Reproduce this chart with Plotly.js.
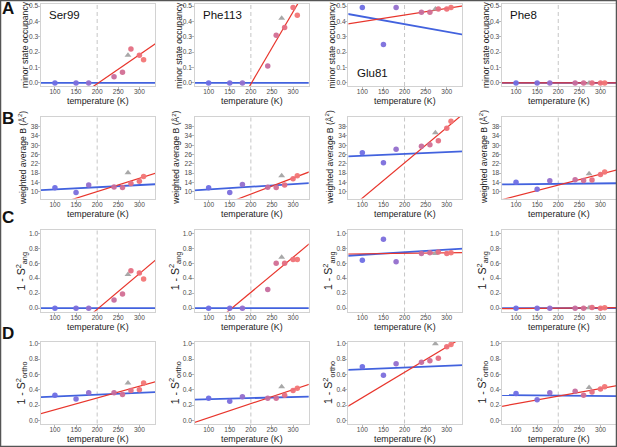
<!DOCTYPE html>
<html><head><meta charset="utf-8">
<script src="https://cdn.plot.ly/plotly-3.0.1.min.js"></script>
<style>html,body{margin:0;padding:0;background:#fff}#chart{width:617px;height:447px}</style>
</head><body><div id="chart"></div>
<script>
// ---------------- data ----------------
const residues = ["Ser99", "Phe113", "Glu81", "Phe8"];
const panelLetters = ["A", "B", "C", "D"];
const tempsCryo = [100, 150, 180];
const tempsWarm = [240, 260, 280, 300, 310];
const tempRT = 273;
const xTicks = [100, 150, 200, 250, 300];
const occTicks = [0, 0.1, 0.2, 0.3, 0.4, 0.5];
const bTicks = [10, 14, 18, 22, 26, 30, 34, 38];
const sTicks = [0, 0.2, 0.4, 0.6, 0.8, 1.0];

// A: minor state occupancy
const occCryo = [[0, 0, 0], [0, 0, 0], [0.49, 0.25, 0.49], [0, 0, 0]];
const occWarm = [[0.04, 0.07, 0.22, 0.18, 0.15], [0.11, 0.31, 0.36, 0.49, 0.44],
                 [0.46, 0.46, 0.48, 0.48, 0.49], [0, 0, 0, 0, 0]];
const occRT = [0.18, 0.42, 0.48, 0];

// B: weighted average B
const bCryo = [[11.6, 9.6, 12.8], [11.6, 9.6, 13.0], [26.8, 22.4, 28.3], [14.0, 11.0, 14.7]];
const bWarm = [[12.0, 11.7, 13.5, 14.5, 16.5], [11.9, 11.7, 12.8, 15.5, 16.8],
               [29.6, 30.2, 31.9, 37.3, 40.4], [15.1, 14.8, 15.0, 17.4, 18.4]];
const bRT = [18.1, 16.8, 35.4, 17.7];

// C: 1 - S2 ang
const angCryo = [[0, 0, 0], [0, 0, 0], [0.64, 0.92, 0.62], [0, 0, 0]];
const angWarm = [[0.11, 0.19, 0.50, 0.47, 0.39], [0.25, 0.60, 0.60, 0.65, 0.65],
                 [0.73, 0.74, 0.75, 0.73, 0.74], [0, 0, 0.01, 0, 0.005]];
const angRT = [0.45, 0.68, 0.73, 0.005];

// D: 1 - S2 ortho
const orthoCryo = [[0.33, 0.28, 0.36], [0.29, 0.25, 0.31], [0.70, 0.59, 0.74], [0.35, 0.27, 0.36]];
const orthoWarm = [[0.36, 0.34, 0.39, 0.40, 0.49], [0.29, 0.29, 0.33, 0.39, 0.42],
                   [0.76, 0.78, 0.81, 0.96, 0.99], [0.38, 0.33, 0.37, 0.41, 0.44]];
const orthoRT = [0.49, 0.44, 1.0, 0.43];

// ---------------- styling ----------------
const cryoColors = ["#6e6ee4", "#7b6edc", "#936ecc"];
const warmColors = ["#c66d9e", "#d26e94", "#e46e82", "#ee7078", "#f27676"];
const rtColor = "#a8a8a8";
const blueLine = "#4262de";
const redLine = "#e8352c";
const FONT = "Liberation Sans, Arial, sans-serif";
const xRange = [67, 337];

const rows = [
  {title: "minor state occupancy", tsize: 8.6, tx: -16, cryo: occCryo, warm: occWarm, rt: occRT, ticks: occTicks, range: [-0.02, 0.513], fmt: ".1f"},
  {title: "weighted average B (Å<sup>2</sup>)", tsize: 8.6, tx: -18.5, cryo: bCryo, warm: bWarm, rt: bRT, ticks: bTicks, range: [7.0, 42.4], fmt: "d"},
  {title: "1 - S<sup>2</sup><sub>ang</sub>", tsize: 10.5, tx: -20, cryo: angCryo, warm: angWarm, rt: angRT, ticks: sTicks, range: [-0.045, 1.05], fmt: ".1f"},
  {title: "1 - S<sup>2</sup><sub>ortho</sub>", tsize: 10.5, tx: -20, cryo: orthoCryo, warm: orthoWarm, rt: orthoRT, ticks: sTicks, range: [-0.04, 1.03], fmt: ".1f"}
];
const rowTops = [4, 116.5, 229.5, 341.5];
const xTitleY = [101, 214.5, 327, 438.5];

function linfit(xs, ys) {
  const n = xs.length;
  const mx = xs.reduce((a, b) => a + b, 0) / n;
  const my = ys.reduce((a, b) => a + b, 0) / n;
  let sxy = 0, sxx = 0;
  for (let i = 0; i < n; i++) { sxy += (xs[i] - mx) * (ys[i] - my); sxx += (xs[i] - mx) ** 2; }
  const slope = sxx ? sxy / sxx : 0;
  return x => my + slope * (x - mx);
}

const W = 617, H = 447;
const colLeft = c => 41 + 153.7 * c;
const rowTop = r => rowTops[r];
const PW = 114, PH = 82;

const traces = [];
const layout = {
  width: W, height: H,
  margin: {l: 0, r: 0, t: 0, b: 0},
  paper_bgcolor: "#ffffff", plot_bgcolor: "#ffffff",
  showlegend: false,
  font: {family: FONT, color: "#222"},
  shapes: [], annotations: []
};

rows.forEach((row, r) => {
  residues.forEach((res, c) => {
    const n = r * 4 + c + 1;
    const xa = "x" + (n === 1 ? "" : n), ya = "y" + (n === 1 ? "" : n);
    const xkey = "xaxis" + (n === 1 ? "" : n), ykey = "yaxis" + (n === 1 ? "" : n);
    const x0 = colLeft(c) / W, x1 = (colLeft(c) + PW) / W;
    const yTop = 1 - rowTop(r) / H, yBot = 1 - (rowTop(r) + PH) / H;
    const axBase = {
      showgrid: false, zeroline: false, showline: true, mirror: true,
      linecolor: "#d2d2d2", linewidth: 1, ticks: "outside", ticklen: 2.5,
      tickcolor: "#b8b8b8", tickfont: {size: 6.6, color: "#4d4d4d", family: FONT},
      fixedrange: true
    };
    layout[xkey] = Object.assign({}, axBase, {
      domain: [x0, Math.min(x1, 1)], anchor: ya, range: xRange,
      tickmode: "array", tickvals: xTicks, ticklabelstandoff: -3
    });
    layout[ykey] = Object.assign({}, axBase, {
      domain: [yBot, yTop], anchor: xa, range: row.range,
      tickmode: "array", tickvals: row.ticks, tickformat: row.fmt, ticklabelstandoff: -2
    });

    // axis titles as annotations
    layout.annotations.push({
      text: "temperature (K)", xref: xa + " domain", yref: "paper",
      x: 0.5, y: 1 - xTitleY[r] / H, xanchor: "center", yanchor: "middle",
      showarrow: false, font: {size: 8.8, color: "#222", family: FONT}
    });
    layout.annotations.push({
      text: row.title, xref: "paper", yref: "paper", textangle: -90,
      x: (colLeft(c) + row.tx) / W, y: 1 - (rowTop(r) + PH / 2) / H,
      xanchor: "center", yanchor: "middle",
      showarrow: false, font: {size: row.tsize, color: "#222", family: FONT}
    });

    const cryoY = row.cryo[c], warmY = row.warm[c], rtY = row.rt[c];
    const fitBlue = linfit(tempsCryo, cryoY);
    const fitRed = linfit(tempsWarm.concat([tempRT]), warmY.concat([rtY]));
    const lx = [xRange[0] - 20, xRange[1] + 20];

    traces.push({x: lx, y: lx.map(fitBlue), xaxis: xa, yaxis: ya, mode: "lines",
      line: {color: blueLine, width: 1.8}, hoverinfo: "skip"});
    traces.push({x: lx, y: lx.map(fitRed), xaxis: xa, yaxis: ya, mode: "lines",
      line: {color: redLine, width: 1.2}, hoverinfo: "skip"});
    traces.push({x: [tempRT], y: [rtY], xaxis: xa, yaxis: ya, mode: "markers",
      marker: {symbol: "triangle-up", size: 6, color: rtColor}, cliponaxis: false});
    traces.push({x: tempsCryo, y: cryoY, xaxis: xa, yaxis: ya, mode: "markers",
      marker: {size: 5.5, color: cryoColors, opacity: 0.95}, cliponaxis: false});
    traces.push({x: tempsWarm, y: warmY, xaxis: xa, yaxis: ya, mode: "markers",
      marker: {size: 5.5, color: warmColors, opacity: 0.95}, cliponaxis: false});

    layout.shapes.push({type: "line", xref: xa, yref: ya + " domain", x0: 200, x1: 200, y0: 0, y1: 1,
      line: {color: "#c6c6c6", width: 1, dash: "4px,3px"}, layer: "below"});

    if (r === 0) {
      const isGlu = res === "Glu81";
      layout.annotations.push({
        text: res, xref: xa + " domain", yref: ya + " domain",
        x: 0.055, y: isGlu ? 0.16 : 0.865, xanchor: "left", yanchor: "middle",
        showarrow: false, font: {size: 11.5, color: "#111", family: FONT}
      });
    }
  });
});

const letterY = [8, 118, 217.5, 333];
panelLetters.forEach((L, i) => {
  layout.annotations.push({
    text: "<b>" + L + "</b>", xref: "paper", yref: "paper",
    x: 8 / W, y: 1 - letterY[i] / H, xanchor: "center", yanchor: "middle",
    showarrow: false, font: {size: 17, color: "#111", family: FONT}
  });
});

layout.shapes.push({type: "rect", xref: "paper", yref: "paper", x0: 0, x1: 1, y0: 0, y1: 1,
  line: {color: "#555555", width: 2.5}, layer: "above"});

Plotly.newPlot("chart", traces, layout, {staticPlot: true, displayModeBar: false});
</script>
</body></html>
